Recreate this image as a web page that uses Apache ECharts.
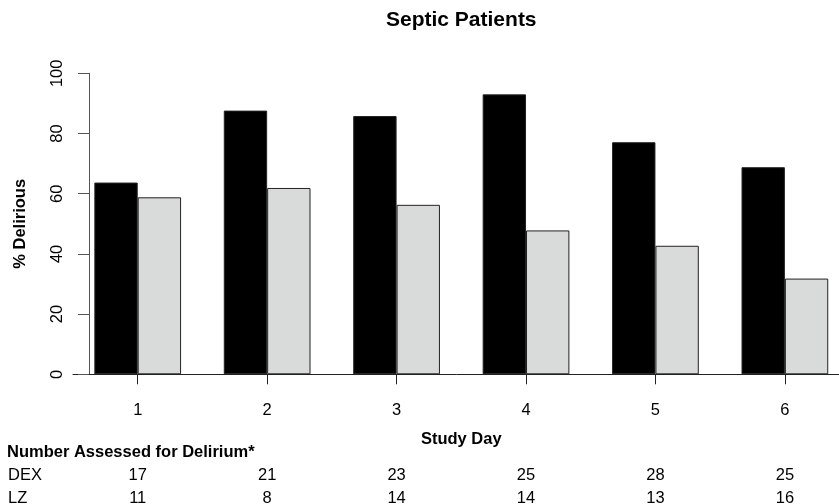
<!DOCTYPE html>
<html>
<head>
<meta charset="utf-8">
<script src="https://cdn.jsdelivr.net/npm/echarts@6/dist/echarts.min.js"></script>
<style>html,body{margin:0;padding:0;background:#fff}#c{width:839px;height:504px}</style>
</head>
<body>
<div id="c"></div>
<script>
const days = ['1', '2', '3', '4', '5', '6'];
const dexPct = [63.7, 87.6, 85.8, 93.0, 77.1, 68.8];
const lzPct = [58.8, 61.9, 56.3, 47.8, 42.7, 31.8];
const dexN = ['17', '21', '23', '25', '28', '25'];
const lzN = ['11', '8', '14', '14', '13', '16'];
const yTicks = { min: 0, max: 100, interval: 20 };

const FONT = '"Liberation Sans", Arial, Helvetica, sans-serif';
const FS = 16.5;
const chart = echarts.init(document.getElementById('c'), null, { renderer: 'canvas' });

function countAxis(labels, offset) {
  return {
    type: 'category', data: labels, gridIndex: 0, position: 'bottom', offset: offset,
    axisLine: { show: false }, axisTick: { show: false },
    axisLabel: { margin: 0, fontFamily: FONT, fontSize: FS, color: '#000', verticalAlign: 'top' },
    splitLine: { show: false }
  };
}

chart.setOption({
  animation: false,
  backgroundColor: '#fff',
  title: [
    { text: 'Septic Patients', left: 386, top: 10, padding: 0, textStyle: { fontFamily: FONT, fontSize: 21, fontWeight: 'bold', color: '#000' } },
    { text: 'Number Assessed for Delirium*', left: 7, top: 444, padding: 0, textStyle: { fontFamily: FONT, fontSize: FS, fontWeight: 'bold', color: '#000' } },
    { text: 'DEX', left: 8, top: 467, padding: 0, textStyle: { fontFamily: FONT, fontSize: FS, fontWeight: 'normal', color: '#000' } },
    { text: 'LZ', left: 8, top: 490, padding: 0, textStyle: { fontFamily: FONT, fontSize: FS, fontWeight: 'normal', color: '#000' } }
  ],
  grid: { left: 73, width: 776.6, top: 73.3, bottom: 129.7, containLabel: false, outerBoundsMode: 'none' },
  xAxis: [
    {
      type: 'category', data: days, gridIndex: 0, position: 'bottom',
      axisLine: { show: true, lineStyle: { color: '#222', width: 1 } },
      axisTick: { show: true, alignWithLabel: true, length: 10, lineStyle: { color: '#222' } },
      axisLabel: { margin: 28, fontFamily: FONT, fontSize: FS, color: '#000', verticalAlign: 'top' },
      name: 'Study Day', nameLocation: 'middle', nameGap: 57,
      nameTextStyle: { fontFamily: FONT, fontSize: FS, fontWeight: 'bold', color: '#000' },
      splitLine: { show: false }
    },
    countAxis(dexN, 93),
    countAxis(lzN, 116)
  ],
  yAxis: {
    type: 'value', min: yTicks.min, max: yTicks.max, interval: yTicks.interval, offset: -16,
    axisLine: { show: true, lineStyle: { color: '#555', width: 1 } },
    axisTick: { show: true, length: 11, lineStyle: { color: '#555' } },
    axisLabel: { rotate: 90, margin: 23, fontFamily: FONT, fontSize: FS, color: '#000' },
    splitLine: { show: false },
    name: '% Delirious', nameLocation: 'middle', nameRotate: 90, nameGap: 60,
    nameTextStyle: { fontFamily: FONT, fontSize: FS, fontWeight: 'bold', color: '#000' }
  },
  series: [
    { name: 'DEX', type: 'bar', data: dexPct, barGap: '0%', barCategoryGap: '33%',
      itemStyle: { color: '#000', borderColor: '#222', borderWidth: 1 } },
    { name: 'LZ', type: 'bar', data: lzPct, barGap: '0%', barCategoryGap: '33%',
      itemStyle: { color: '#d9dbda', borderColor: '#222', borderWidth: 1 } }
  ]
});
</script>
</body>
</html>
